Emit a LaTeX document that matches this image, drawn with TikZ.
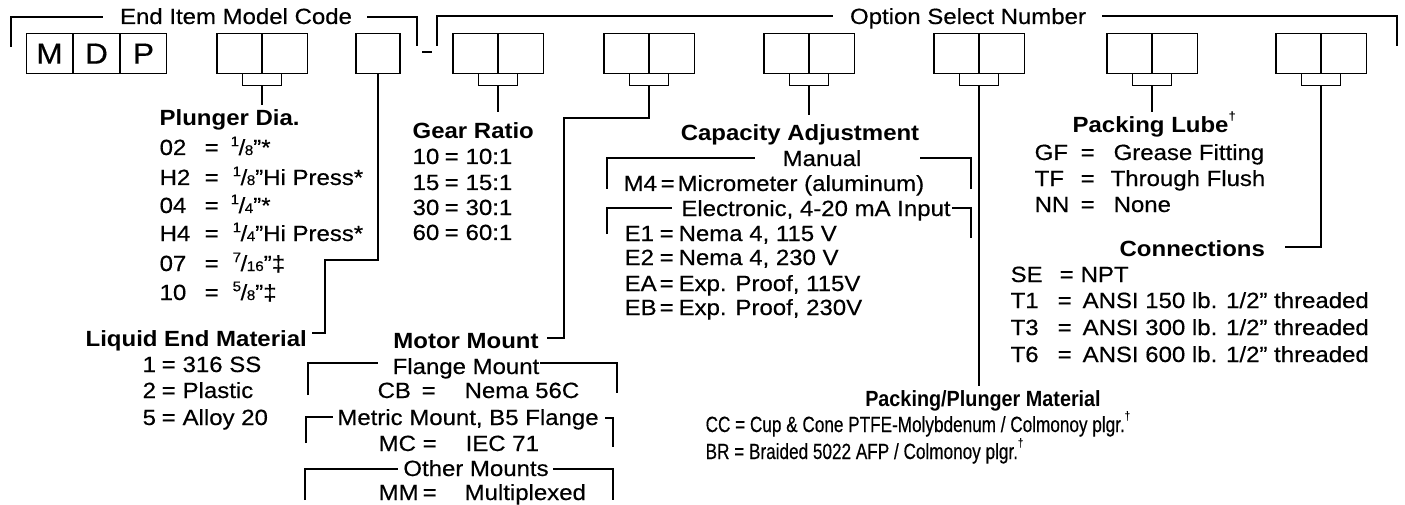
\documentclass[tikz,border=0pt]{standalone}
\usepackage{fontspec}
\setmainfont{Liberation Sans}[FakeStretch=1.09,UprightFeatures={FakeBold=0.4}]
\newfontfamily\narrowfont{Liberation Sans}[FakeStretch=0.78,UprightFeatures={FakeBold=0.4}]
\newfontfamily\narrowbold{Liberation Sans Bold}[FakeStretch=0.9]
\newcommand\fs{\fontsize{22}{26}\selectfont}
\newcommand\fr[2]{\raisebox{0.4em}{\fontsize{14}{14}\selectfont #1}\kern-0.5pt/\kern-0.5pt{\fontsize{14}{14}\selectfont #2}}
\newcommand\dg{\raisebox{0.55em}{\fontsize{12}{12}\selectfont †}}
\newcommand\rw[4]{\makebox[#1pt][l]{#3}\makebox[0pt][c]{=}\hspace{#2pt}#4}
\begin{document}
\begin{tikzpicture}[x=1pt,y=-1pt,line width=1.3pt,
  cell/.style={draw,minimum width=44.5pt,minimum height=40pt,inner sep=0pt},
  tabbox/.style={draw,minimum width=39pt,minimum height=12pt,inner sep=0pt,anchor=north},
  lbl/.style={anchor=base west,inner sep=0pt,font=\fs,yshift=-1pt},
  lblc/.style={anchor=base,inner sep=0pt,font=\fs,yshift=-1pt},
  ttl/.style={anchor=base west,inner sep=0pt,font=\fs\bfseries,yshift=-1pt},
  ttlc/.style={anchor=base,inner sep=0pt,font=\fs\bfseries,yshift=-1pt},
  nar/.style={anchor=base west,inner sep=0pt,font=\fs\narrowfont},
  narb/.style={anchor=base,inner sep=0pt,font=\fs\narrowbold},
  letter/.style={draw,minimum width=45.7pt,minimum height=40pt,inner sep=0pt,anchor=north west,font=\fontsize{29}{29}\selectfont}
]
\useasboundingbox (0,0) rectangle (1405,505);
\newcommand\pair[2]{%
  \node[cell,anchor=north east] (#1a) at (#2,33) {};
  \node[cell,anchor=north west] (#1b) at (#2,33) {};
  \node[tabbox] (#1t) at (#2,73) {};}

% top brackets
\node[lblc] (eimc) at (236,23) {End Item Model Code};
\node[lblc] (osn) at (968,23) {Option Select Number};
\draw (11,47) -- (11,17) -- (103,17);
\draw (367,17) -- (417,17) -- (417,46);
\draw (422,52) -- (432,52);
\draw (437,46) -- (437,16) -- (833,16);
\draw (1102,16) -- (1397,16) -- (1397,46);

% MDP
\node[letter] (bm) at (26,33) {M};
\node[letter] (bd) at (bm.north east) {D};
\node[letter] (bp) at (bd.north east) {P};

% boxes
\pair{pl}{262}
\node[cell,minimum width=44pt,anchor=north] (sb) at (378,33) {};
\pair{oa}{498}
\pair{ob}{649}
\pair{oc}{809}
\pair{od}{979}
\pair{oe}{1152}
\pair{of}{1321}

% connectors
\coordinate (plend) at (262,105);
\draw (plt.south) -- (plend);
\coordinate (le1) at (378,260);
\coordinate (le2) at (325,333);
\coordinate (le3) at (312,333);
\draw (sb.south) -- (le1) -| (le2) -- (le3);
\coordinate (gr1) at (498,112);
\draw (oat.south) -- (gr1);
\coordinate (mm1) at (649,118);
\coordinate (mm2) at (564,338);
\coordinate (mm3) at (547,338);
\draw (obt.south) -- (mm1) -| (mm2) -- (mm3);
\coordinate (ca1) at (809,115);
\draw (oct.south) -- (ca1);
\coordinate (pp1) at (979,386);
\draw (odt.south) -- (pp1);
\coordinate (lu1) at (1152,112);
\draw (oet.south) -- (lu1);
\coordinate (cn1) at (1285,247);
\draw (oft.south) |- (cn1);

% Plunger Dia.
\node[ttl] (pdt) at (159,125) {Plunger Dia.};
\node[lbl] (pd1) at (159,154) {\rw{52}{19}{02}{\fr18"*}};
\node[lbl] (pd2) at (159,184) {\rw{52}{21}{H2}{\fr18"Hi Press*}};
\node[lbl] (pd3) at (159,212) {\rw{52}{19}{04}{\fr14"*}};
\node[lbl] (pd4) at (159,240) {\rw{52}{21}{H4}{\fr14"Hi Press*}};
\node[lbl] (pd5) at (159,270) {\rw{52}{21}{07}{\fr7{16}"‡}};
\node[lbl] (pd6) at (159,299) {\rw{52}{21}{10}{\fr58"‡}};

% Liquid End Material
\node[ttl] (let) at (85,345) {Liquid End Material};
\node[lbl] (le1t) at (142,371) {\rw{26}{14}{1}{316 SS}};
\node[lbl] (le2t) at (142,397) {\rw{26}{14}{2}{Plastic}};
\node[lbl] (le3t) at (142,424) {\rw{26}{14}{5}{Alloy 20}};

% Gear Ratio
\node[ttl] (grt) at (412,138) {Gear Ratio};
\node[lbl] (gr1t) at (412,163) {\rw{39}{14}{10}{10:1}};
\node[lbl] (gr2t) at (412,189) {\rw{39}{14}{15}{15:1}};
\node[lbl] (gr3t) at (412,214) {\rw{39}{14}{30}{30:1}};
\node[lbl] (gr4t) at (412,239) {\rw{39}{14}{60}{60:1}};

% Motor Mount
\node[ttlc] (mmt) at (466,347) {Motor Mount};
\node[lblc] (fm) at (466,373) {Flange Mount};
\draw (308,395) -- (308,363) -- (378,363);
\draw (540,363) -- (617,363) -- (617,393);
\node[lbl] (cb) at (377,397) {\rw{51}{36}{CB}{Nema 56C}};
\node[lblc] (mtm) at (468,424) {Metric Mount, B5 Flange};
\draw (306,443) -- (306,417) -- (333,417);
\draw (605,418) -- (613,418) -- (613,447);
\node[lbl] (mc) at (378,450) {\rw{51}{36}{MC}{IEC 71}};
\node[lblc] (om) at (476,475) {Other Mounts};
\draw (305,500) -- (305,469) -- (398,469);
\draw (553,469) -- (613,469) -- (613,500);
\node[lbl] (mmr) at (378,499) {\rw{51}{35}{MM}{Multiplexed}};

% Capacity Adjustment
\node[ttlc] (cat) at (800,140) {Capacity Adjustment};
\node[lblc] (man) at (822,165) {Manual};
\draw (607,189) -- (607,158) -- (755,158);
\draw (920,158) -- (971,158) -- (971,189);
\node[lbl] (m4) at (623,190) {\rw{44}{10}{M4}{Micrometer (aluminum)}};
\node[lblc] (ele) at (816,215) {Electronic, 4-20 mA Input};
\draw (607,234) -- (607,208) -- (672,208);
\draw (952,208) -- (971,208) -- (971,238);
\node[lbl] (e1) at (624,240) {\rw{42}{12}{E1}{Nema 4, 115 V}};
\node[lbl] (e2) at (624,264) {\rw{42}{12}{E2}{Nema 4, 230 V}};
\node[lbl] (ea) at (624,290) {\rw{42}{12}{EA}{Exp. Proof, 115V}};
\node[lbl] (eb) at (624,314) {\rw{42}{12}{EB}{Exp. Proof, 230V}};

% Packing/Plunger Material
\node[narb] (ppt) at (983,406) {Packing/Plunger Material};
\node[nar] (cc) at (705,432) {CC = Cup \& Cone PTFE-Molybdenum / Colmonoy plgr.\dg};
\node[nar] (br) at (705,459) {BR = Braided 5022 AFP / Colmonoy plgr.\dg};

% Packing Lube
\node[ttl] (plt2) at (1072,132) {Packing Lube\dg};
\node[lbl] (gf) at (1034,159) {\rw{53}{26}{GF}{Grease Fitting}};
\node[lbl] (tf) at (1034,185) {\rw{53}{23}{TF}{Through Flush}};
\node[lbl] (nn) at (1034,211) {\rw{53}{26}{NN}{None}};

% Connections
\node[ttl] (cnt) at (1119,255) {Connections};
\node[lbl] (se) at (1010,281) {\rw{56}{14}{SE}{NPT}};
\node[lbl] (t1) at (1010,307) {\rw{54}{18}{T1}{ANSI 150 lb. 1/2” threaded}};
\node[lbl] (t3) at (1010,334) {\rw{54}{18}{T3}{ANSI 300 lb. 1/2” threaded}};
\node[lbl] (t6) at (1010,361) {\rw{54}{18}{T6}{ANSI 600 lb. 1/2” threaded}};
\end{tikzpicture}
\end{document}
